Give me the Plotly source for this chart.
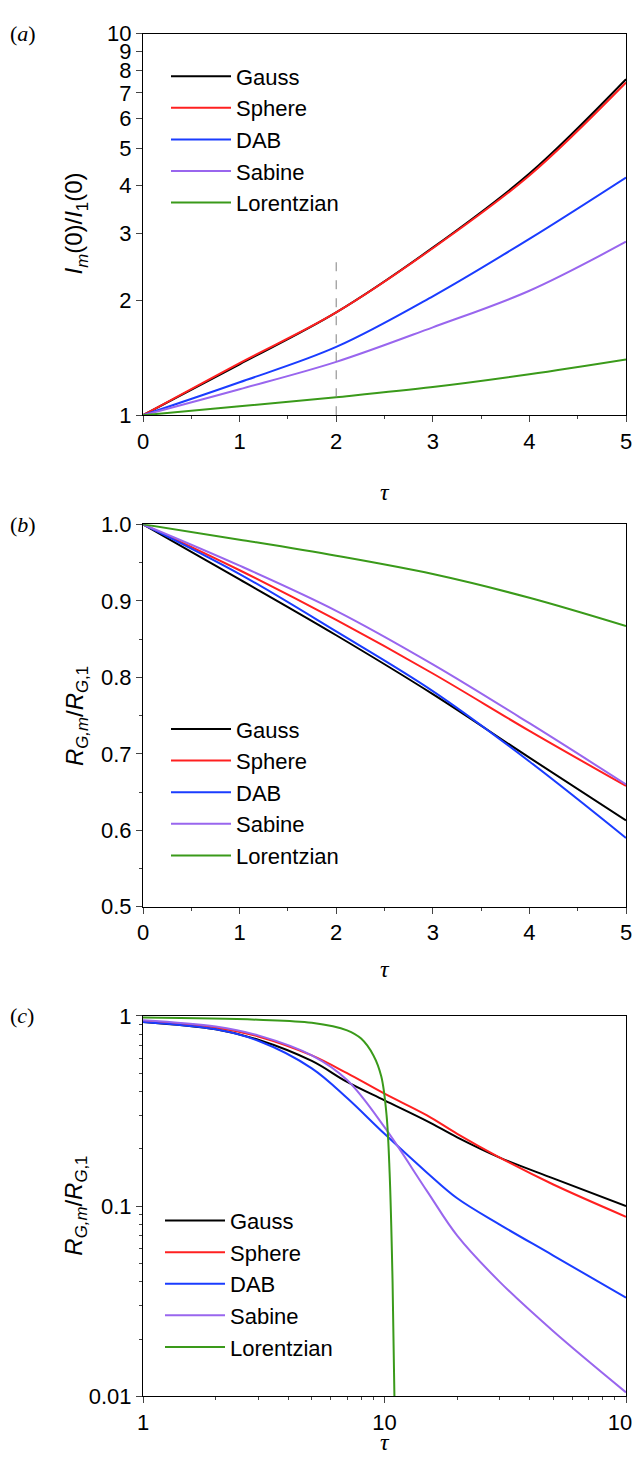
import plotly.graph_objects as go

names = ['Gauss', 'Sphere', 'DAB', 'Sabine', 'Lorentzian']
colors = ['#000000', '#ff2020', '#1a3cff', '#9966ee', '#3a9a1a']

# panel (a): Im(0)/I1(0) vs tau
tau_a = [0, 1, 2, 3, 4, 5]
ratio_a = {
    'Gauss': [1, 1.36, 1.86, 2.75, 4.3, 7.6],
    'Sphere': [1, 1.37, 1.86, 2.74, 4.25, 7.45],
    'DAB': [1, 1.22, 1.51, 2.05, 2.9, 4.2],
    'Sabine': [1, 1.17, 1.38, 1.7, 2.12, 2.85],
    'Lorentzian': [1, 1.055, 1.115, 1.185, 1.28, 1.4],
}

# panel (b): RG,m/RG,1 vs tau
tau_b = [0, 1, 2, 3, 4, 5]
ratio_b = {
    'Gauss': [1, 0.928, 0.855, 0.778, 0.695, 0.613],
    'Sphere': [1, 0.94, 0.875, 0.805, 0.73, 0.658],
    'DAB': [1, 0.935, 0.86, 0.782, 0.69, 0.59],
    'Sabine': [1, 0.946, 0.887, 0.817, 0.74, 0.66],
    'Lorentzian': [1, 0.98, 0.959, 0.935, 0.904, 0.867],
}

# panel (c): log-log
tau_c = [1, 2, 3, 5, 7, 10, 15, 20, 30, 50, 100]
ratio_c = {
    'Gauss': [0.93, 0.85, 0.75, 0.58, 0.45, 0.36, 0.28, 0.23, 0.18, 0.14, 0.1],
    'Sphere': [0.94, 0.87, 0.78, 0.62, 0.5, 0.39, 0.3, 0.24, 0.18, 0.13, 0.088],
    'DAB': [0.93, 0.85, 0.74, 0.53, 0.37, 0.24, 0.15, 0.11, 0.08, 0.055, 0.033],
    'Sabine': [0.95, 0.88, 0.79, 0.62, 0.46, 0.26, 0.12, 0.07, 0.04, 0.022, 0.0105],
}
tau_lor = [1, 3, 5, 7, 8, 9, 9.7, 10.2, 10.5, 10.8, 11]
ratio_lor = [0.98, 0.955, 0.92, 0.84, 0.76, 0.62, 0.48, 0.3, 0.15, 0.04, 0.0095]

fig = go.Figure()
for i, n in enumerate(names):
    fig.add_trace(go.Scatter(x=tau_a, y=ratio_a[n], name=n, mode='lines', line=dict(color=colors[i], width=2, shape='spline'),
                             xaxis='x', yaxis='y', legend='legend'))
fig.add_trace(go.Scatter(x=[2, 2], y=[1, 2.6], mode='lines', line=dict(color='gray', width=1, dash='dash'),
                         showlegend=False, xaxis='x', yaxis='y'))
for i, n in enumerate(names):
    fig.add_trace(go.Scatter(x=tau_b, y=ratio_b[n], name=n, mode='lines', line=dict(color=colors[i], width=2, shape='spline'),
                             xaxis='x2', yaxis='y2', legend='legend2'))
for i, n in enumerate(names):
    xs, ys = (tau_lor, ratio_lor) if n == 'Lorentzian' else (tau_c, ratio_c[n])
    fig.add_trace(go.Scatter(x=xs, y=ys, name=n, mode='lines', line=dict(color=colors[i], width=2, shape='spline'),
                             xaxis='x3', yaxis='y3', legend='legend3'))

H = 1483
L, R = 135, 618
W = R - L

def dom(top, bot):
    return [1 - bot / H, 1 - top / H]

def px(x):
    return (x - L) / W

ax = dict(showline=True, linecolor='black', linewidth=1.2, mirror=True, ticks='outside', ticklen=6,
          showgrid=False, zeroline=False, tickfont=dict(size=22, family='Arial', color='black'))
lin_minor = dict(ticks='outside', ticklen=3)
log_minor = dict(ticks='outside', ticklen=3, dtick='D1')
fig.update_layout(
    width=640, height=H, plot_bgcolor='white', paper_bgcolor='white',
    margin=dict(l=L, r=640 - R, t=0, b=0),
    font=dict(family='Arial', color='black'),
    xaxis=dict(ax, range=[0, 5], dtick=1, anchor='y', minor=dict(lin_minor, dtick=0.5)),
    yaxis=dict(ax, type='log', range=[0, 1], domain=dom(14, 402), anchor='x', minor=log_minor,
               tickvals=[1, 2, 3, 4, 5, 6, 7, 8, 9, 10], ticktext=['1', '2', '3', '4', '5', '6', '7', '8', '9', '10']),
    xaxis2=dict(ax, range=[0, 5], dtick=1, anchor='y2', minor=dict(lin_minor, dtick=0.5)),
    yaxis2=dict(ax, range=[0.5, 1.0], dtick=0.1, tickformat='.1f', domain=dom(513, 902), anchor='x2',
                minor=dict(lin_minor, dtick=0.05)),
    xaxis3=dict(ax, type='log', range=[0, 2], tickvals=[1, 10, 100], anchor='y3', minor=log_minor),
    yaxis3=dict(ax, type='log', range=[-2, 0], tickvals=[0.01, 0.1, 1], ticktext=['0.01', '0.1', '1'],
                domain=dom(1013, 1400), anchor='x3', minor=log_minor),
)
leg = dict(font=dict(size=22, family='Arial'), bgcolor='rgba(0,0,0,0)', xanchor='left', yanchor='top',
           tracegroupgap=0, itemwidth=60)
fig.update_layout(legend=dict(leg, x=px(158), y=1 - 36 / H),
                  legend2=dict(leg, x=px(158), y=1 - 700 / H),
                  legend3=dict(leg, x=px(152), y=1 - 1200 / H))

annotations = []
for ypix, lab in [(14, 'a'), (513, 'b'), (1013, 'c')]:
    annotations.append(dict(text='(<i>%s</i>)' % lab, xref='paper', yref='paper', x=px(0), y=1 - ypix / H,
                            xanchor='left', yanchor='middle', showarrow=False,
                            font=dict(size=22, family='Liberation Serif')))
for ypix in [465, 965, 1462]:
    annotations.append(dict(text='<i>τ</i>', xref='paper', yref='paper', x=0.5, y=1 - ypix / H,
                            showarrow=False, font=dict(size=24, family='Liberation Serif')))
for ypix, t in [(207, '<i>I<sub>m</sub></i>(0)/<i>I</i><sub>1</sub>(0)'),
                (708, '<i>R<sub>G,m</sub></i>/<i>R</i><sub><i>G</i>,1</sub>'),
                (1206, '<i>R<sub>G,m</sub></i>/<i>R</i><sub><i>G</i>,1</sub>')]:
    annotations.append(dict(text=t, xref='paper', yref='paper', x=px(68), y=1 - ypix / H, textangle=-90,
                            xanchor='center', yanchor='middle', showarrow=False,
                            font=dict(size=24, family='Arial')))
fig.update_layout(annotations=annotations)

fig.write_html('out.html')
